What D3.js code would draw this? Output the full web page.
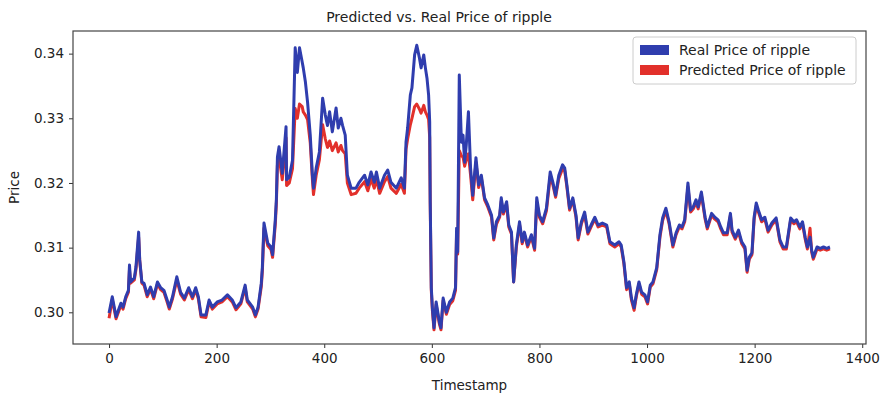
<!DOCTYPE html>
<html>
<head>
<meta charset="utf-8">
<script src="https://cdn.jsdelivr.net/npm/d3@7"></script>
<style>
  body { margin: 0; background: #fff; }
  text { font-family: "DejaVu Sans", sans-serif; fill: #222; }
</style>
</head>
<body>
<div id="chart"></div>
<script>
var timestamps = [
  0, 6, 13, 22, 26, 31, 36, 38, 40, 47,
  50, 55, 57, 61, 65, 71, 77, 83, 90, 96,
  102, 108, 112, 118, 126, 133, 140, 148, 155, 161,
  166, 171, 180, 186, 192, 201, 210, 220, 229, 236,
  245, 253, 257, 267, 272, 277, 283, 285, 288, 295,
  301, 304, 309, 311, 313, 316, 322, 329, 330, 335,
  341, 346, 350, 354, 359, 361, 365, 369, 374, 378,
  380, 385, 391, 397, 402, 406, 410, 415, 422, 426,
  431, 434, 439, 443, 450, 459, 465, 475, 481, 487,
  493, 497, 503, 512, 518, 524, 534, 543, 549, 552,
  555, 560, 563, 568, 572, 577, 580, 585, 588, 591,
  594, 596, 597, 599, 601, 604, 608, 614, 617, 621,
  627, 633, 639, 644, 646, 648, 651, 655, 658, 661,
  664, 668, 672, 676, 682, 687, 692, 698, 704, 711,
  715, 720, 726, 729, 733, 739, 743, 748, 752, 757,
  763, 768, 772, 778, 785, 791, 795, 800, 806, 813,
  820, 825, 830, 836, 843, 847, 851, 856, 862, 868,
  872, 878, 884, 890, 896, 903, 909, 917, 925, 931,
  940, 948, 952, 957, 962, 967, 971, 976, 980, 985,
  990, 996, 1001, 1006, 1011, 1018, 1024, 1029, 1035, 1041,
  1048, 1054, 1060, 1065, 1070, 1076, 1081, 1086, 1091, 1095,
  1101, 1108, 1112, 1120, 1126, 1132, 1137, 1142, 1149, 1155,
  1158, 1164, 1170, 1176, 1182, 1186, 1190, 1195, 1199, 1203,
  1207, 1213, 1219, 1225, 1232, 1240, 1247, 1253, 1259, 1267,
  1273, 1278, 1284, 1289, 1294, 1298, 1303, 1306, 1309, 1316,
  1322, 1328, 1334, 1340
];

var realPrice = [
  .2999, .3024, .2993, .3014, .3008, .3024, .3034, .3073, .3047, .3053,
  .3070, .3124, .3081, .3047, .3045, .3027, .3039, .3024, .3047, .3038,
  .3034, .3019, .3008, .3024, .3055, .3031, .3022, .3038, .3024, .3038,
  .3024, .2996, .2996, .3019, .3008, .3016, .3019, .3027, .3019, .3007,
  .3016, .3042, .3019, .3008, .2996, .3008, .3045, .3070, .3138, .3107,
  .3101, .3089, .3143, .3174, .3240, .3256, .3215, .3287, .3205, .3209,
  .3235, .3409, .3371, .3409, .3387, .3378, .3356, .3325, .3274, .3212,
  .3192, .3223, .3248, .3331, .3305, .3289, .3310, .3279, .3316, .3285,
  .3300, .3289, .3274, .3212, .3192, .3192, .3201, .3212, .3197, .3217,
  .3201, .3217, .3192, .3212, .3220, .3201, .3192, .3208, .3192, .3263,
  .3285, .3336, .3347, .3398, .3413, .3393, .3378, .3398, .3378, .3362,
  .3336, .3294, .3171, .3038, .3007, .2976, .3016, .2985, .2976, .3022,
  .3000, .3016, .3022, .3038, .3130, .3093, .3367, .3263, .3274, .3232,
  .3259, .3310, .3223, .3181, .3239, .3197, .3212, .3177, .3166, .3150,
  .3115, .3140, .3150, .3177, .3155, .3171, .3135, .3124, .3047, .3104,
  .3140, .3109, .3124, .3104, .3120, .3099, .3177, .3150, .3140, .3161,
  .3217, .3201, .3181, .3212, .3228, .3223, .3197, .3161, .3177, .3150,
  .3115, .3140, .3155, .3124, .3135, .3147, .3135, .3138, .3135, .3109,
  .3104, .3109, .3104, .3078, .3038, .3047, .3022, .3007, .3027, .3047,
  .3031, .3027, .3016, .3042, .3047, .3069, .3120, .3146, .3161, .3140,
  .3104, .3123, .3135, .3132, .3143, .3200, .3158, .3163, .3174, .3163,
  .3186, .3147, .3132, .3153, .3147, .3143, .3132, .3123, .3123, .3153,
  .3127, .3116, .3127, .3109, .3101, .3065, .3085, .3092, .3147, .3169,
  .3158, .3143, .3147, .3127, .3138, .3146, .3112, .3101, .3101, .3146,
  .3140, .3143, .3132, .3140, .3116, .3101, .3116, .3096, .3085, .3101,
  .3099, .3101, .3099, .3101
];

var predictedPrice = [
  .2991, .3020, .2990, .3011, .3005, .3021, .3031, .3066, .3045, .3050,
  .3066, .3116, .3080, .3045, .3042, .3024, .3036, .3021, .3044, .3035,
  .3031, .3016, .3005, .3021, .3050, .3028, .3019, .3035, .3021, .3035,
  .3021, .2993, .2992, .3016, .3005, .3013, .3016, .3024, .3016, .3004,
  .3013, .3038, .3016, .3005, .2993, .3005, .3040, .3064, .3130, .3103,
  .3097, .3085, .3136, .3168, .3228, .3240, .3205, .3270, .3196, .3200,
  .3222, .3315, .3300, .3322, .3318, .3310, .3305, .3298, .3262, .3205,
  .3182, .3212, .3236, .3290, .3268, .3255, .3265, .3250, .3262, .3248,
  .3258, .3250, .3245, .3200, .3182, .3184, .3192, .3202, .3188, .3206,
  .3192, .3206, .3184, .3202, .3210, .3192, .3184, .3198, .3184, .3252,
  .3268, .3290, .3300, .3318, .3322, .3314, .3308, .3320, .3310, .3305,
  .3298, .3270, .3165, .3034, .3003, .2973, .3012, .2982, .2973, .3018,
  .2997, .3012, .3018, .3034, .3124, .3090, .3250, .3242, .3240, .3226,
  .3236, .3245, .3212, .3174, .3232, .3193, .3208, .3174, .3163, .3147,
  .3112, .3136, .3147, .3172, .3152, .3167, .3132, .3121, .3047, .3100,
  .3136, .3106, .3121, .3101, .3117, .3096, .3170, .3147, .3137, .3157,
  .3210, .3197, .3178, .3207, .3222, .3219, .3194, .3158, .3174, .3147,
  .3112, .3137, .3151, .3121, .3132, .3144, .3132, .3135, .3132, .3106,
  .3101, .3106, .3101, .3075, .3035, .3044, .3019, .3003, .3024, .3044,
  .3028, .3024, .3013, .3039, .3044, .3066, .3116, .3142, .3157, .3137,
  .3101, .3120, .3132, .3129, .3140, .3194, .3155, .3160, .3170, .3160,
  .3182, .3144, .3129, .3150, .3144, .3140, .3129, .3120, .3120, .3150,
  .3124, .3113, .3124, .3106, .3098, .3062, .3082, .3089, .3143, .3165,
  .3155, .3140, .3144, .3124, .3135, .3143, .3109, .3098, .3098, .3143,
  .3137, .3140, .3129, .3137, .3113, .3098, .3130, .3093, .3082, .3098,
  .3096, .3098, .3096, .3098
];

var xTicks = [0, 200, 400, 600, 800, 1000, 1200, 1400];
var yTicks = [0.30, 0.31, 0.32, 0.33, 0.34];
var seriesNames = ["Real Price of ripple", "Predicted Price of ripple"];
var seriesColors = ["#2f3dae", "#e2302b"];

var W = 880, H = 397;
var margin = { top: 31, right: 14, bottom: 53, left: 73 };
var width = W - margin.left - margin.right;
var height = H - margin.top - margin.bottom;

var svg = d3.select("#chart").append("svg")
  .attr("width", W)
  .attr("height", H);

var g = svg.append("g")
  .attr("transform", "translate(" + margin.left + "," + margin.top + ")");

// matplotlib style 5% padding around the data
var x = d3.scaleLinear().domain([-67, 1407]).range([0, width]);
var y = d3.scaleLinear().domain([0.2951, 0.3435]).range([height, 0]);

var line = d3.line()
  .x(function (d) { return x(d[0]); })
  .y(function (d) { return y(d[1]); });

var realData = timestamps.map(function (t, i) { return [t, realPrice[i]]; });
var predData = timestamps.map(function (t, i) { return [t, predictedPrice[i]]; });

// predicted underneath, real on top
g.append("path")
  .datum(predData)
  .attr("fill", "none")
  .attr("stroke", seriesColors[1])
  .attr("stroke-width", 3)
  .attr("stroke-linejoin", "round")
  .attr("d", line);

g.append("path")
  .datum(realData)
  .attr("fill", "none")
  .attr("stroke", seriesColors[0])
  .attr("stroke-width", 3)
  .attr("stroke-linejoin", "round")
  .attr("d", line);

// axes
var xAxis = g.append("g")
  .attr("transform", "translate(0," + height + ")")
  .call(d3.axisBottom(x).tickValues(xTicks).tickSize(4).tickPadding(5).tickFormat(d3.format("d")));

var yAxis = g.append("g")
  .call(d3.axisLeft(y).tickValues(yTicks).tickSize(4).tickPadding(5).tickFormat(d3.format(".2f")));

[xAxis, yAxis].forEach(function (a) {
  a.select(".domain").remove();
  a.selectAll("line").attr("stroke", "#333");
  a.selectAll("text").style("font-size", "13.5px").attr("fill", "#222");
});

// frame
g.append("rect")
  .attr("width", width)
  .attr("height", height)
  .attr("fill", "none")
  .attr("stroke", "#444")
  .attr("stroke-width", 1.2);

// labels
svg.append("text")
  .attr("x", 439)
  .attr("y", 22)
  .attr("text-anchor", "middle")
  .style("font-size", "14px")
  .text("Predicted vs. Real Price of ripple");

svg.append("text")
  .attr("x", margin.left + width / 2)
  .attr("y", 390)
  .attr("text-anchor", "middle")
  .style("font-size", "13.5px")
  .text("Timestamp");

svg.append("text")
  .attr("transform", "translate(19," + (margin.top + height / 2) + ") rotate(-90)")
  .attr("text-anchor", "middle")
  .style("font-size", "13.5px")
  .text("Price");

// legend
var legend = svg.append("g").attr("transform", "translate(633,37)");
legend.append("rect")
  .attr("width", 223)
  .attr("height", 47)
  .attr("rx", 3)
  .attr("fill", "#fff")
  .attr("fill-opacity", 0.8)
  .attr("stroke", "#ccc");

seriesNames.forEach(function (name, i) {
  legend.append("rect")
    .attr("x", 7)
    .attr("y", 8 + i * 20)
    .attr("width", 29)
    .attr("height", 10)
    .attr("fill", seriesColors[i]);
  legend.append("text")
    .attr("x", 46)
    .attr("y", 18 + i * 20)
    .style("font-size", "14px")
    .text(name);
});
</script>
</body>
</html>
